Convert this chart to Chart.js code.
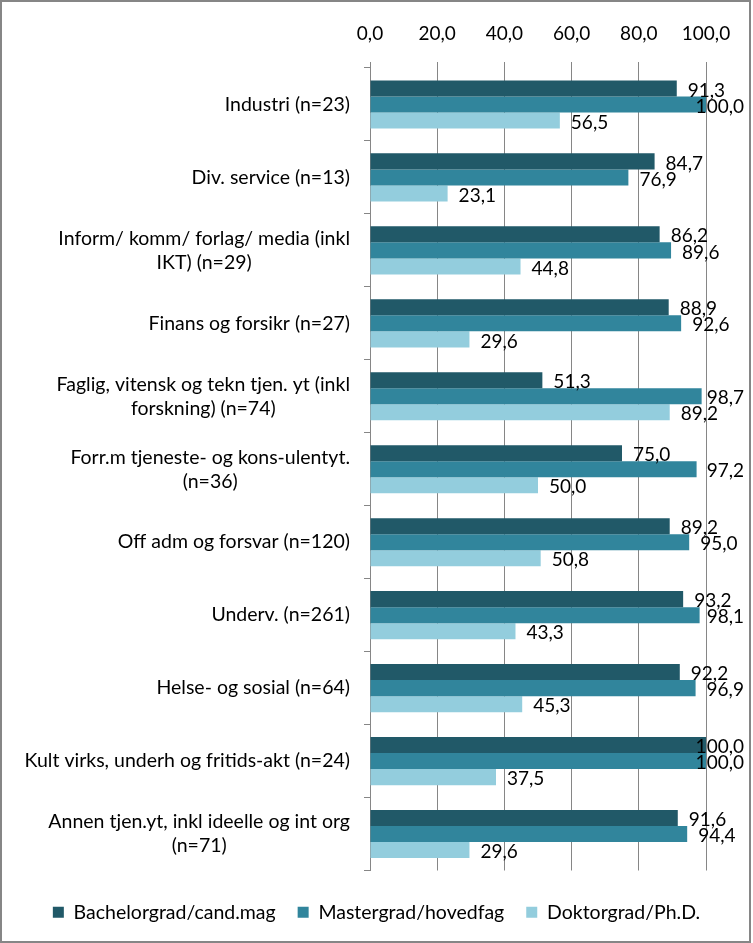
<!DOCTYPE html>
<html>
<head>
<meta charset="utf-8">
<script src="https://cdn.jsdelivr.net/npm/chart.js@4/dist/chart.umd.min.js"></script>
<style>
  html, body { margin: 0; padding: 0; background: #fff; }
  #wrap { width: 753px; height: 943px; }
</style>
</head>
<body>
<div id="wrap"><canvas id="utdChart"></canvas></div>
<script>
const categories = [
  'Industri (n=23)',
  'Div. service (n=13)',
  ['Inform/ komm/ forlag/ media (inkl', 'IKT) (n=29)'],
  'Finans og forsikr (n=27)',
  ['Faglig, vitensk og tekn tjen. yt (inkl', 'forskning) (n=74)'],
  ['Forr.m tjeneste- og kons-ulentyt.', '(n=36)'],
  'Off adm og forsvar (n=120)',
  'Underv. (n=261)',
  'Helse- og sosial (n=64)',
  'Kult virks, underh og fritids-akt (n=24)',
  ['Annen tjen.yt, inkl ideelle og int org', '(n=71)']
];
const bachelor = [91.3, 84.7, 86.2, 88.9, 51.3, 75.0, 89.2, 93.2, 92.2, 100.0, 91.6];
const master = [100.0, 76.9, 89.6, 92.6, 98.7, 97.2, 95.0, 98.1, 96.9, 100.0, 94.4];
const doktor = [56.5, 23.1, 44.8, 29.6, 89.2, 50.0, 50.8, 43.3, 45.3, 37.5, 29.6];
const seriesNames = ['Bachelorgrad/cand.mag', 'Mastergrad/hovedfag', 'Doktorgrad/Ph.D.'];
const xTicks = [0, 20, 40, 60, 80, 100];

const FONT = 'Lato, "Liberation Sans", sans-serif';
const fmt = v => v.toFixed(1).replace('.', ',');

// hvit bakgrunn + ramme
const frame = {
  id: 'frame',
  beforeDraw(chart) {
    const c = chart.ctx;
    c.save();
    c.fillStyle = '#fff';
    c.fillRect(0, 0, chart.width, chart.height);
    c.restore();
  },
  afterDraw(chart) {
    const c = chart.ctx;
    c.save();
    c.strokeStyle = '#868686';
    c.lineWidth = 2;
    c.strokeRect(1, 1, chart.width - 4, chart.height - 2);
    c.restore();
  }
};

// kategoritekst: høyrejustert blokk, linjer sentrert
const catLabels = {
  id: 'catLabels',
  afterDraw(chart) {
    const c = chart.ctx;
    const y = chart.scales.y;
    c.save();
    c.font = '19.5px ' + FONT;
    c.fillStyle = '#000';
    c.textAlign = 'center';
    c.textBaseline = 'middle';
    const right = y.right - 20;
    const lh = 24;
    categories.forEach((lab, i) => {
      const lines = Array.isArray(lab) ? lab : [lab];
      const w = Math.max(...lines.map(l => c.measureText(l).width));
      const cx = right - w / 2;
      const cy = y.getPixelForValue(i);
      lines.forEach((l, j) => {
        c.fillText(l, cx, cy + (j - (lines.length - 1) / 2) * lh);
      });
    });
    c.restore();
  }
};

// verdietiketter, skjøvet innover ved høyre kant
const valueLabels = {
  id: 'valueLabels',
  afterDraw(chart) {
    const c = chart.ctx;
    c.save();
    c.font = '19px ' + FONT;
    c.fillStyle = '#000';
    c.textAlign = 'left';
    c.textBaseline = 'middle';
    chart.data.datasets.forEach((ds, di) => {
      chart.getDatasetMeta(di).data.forEach((bar, i) => {
        const t = fmt(ds.data[i]);
        const w = c.measureText(t).width;
        const x = Math.min(bar.x + 11, 744 - w);
        c.fillText(t, x, bar.y + 2);
      });
    });
    c.restore();
  }
};

new Chart(document.getElementById('utdChart'), {
  type: 'bar',
  data: {
    labels: categories,
    datasets: [
      { label: seriesNames[0], data: bachelor, backgroundColor: '#215968' },
      { label: seriesNames[1], data: master, backgroundColor: '#31859C' },
      { label: seriesNames[2], data: doktor, backgroundColor: '#93CDDD' }
    ]
  },
  options: {
    indexAxis: 'y',
    responsive: true,
    maintainAspectRatio: false,
    animation: false,
    layout: { padding: { left: 0, right: 0, top: 18, bottom: 11 } },
    datasets: {
      bar: { categoryPercentage: 0.66, barPercentage: 1.0 }
    },
    scales: {
      x: {
        position: 'top',
        min: 0,
        max: 100,
        afterBuildTicks: s => { s.ticks = xTicks.map(v => ({ value: v })); },
        afterFit: s => { s.height = 50; },
        ticks: {
          color: '#000',
          font: { family: FONT, size: 19 },
          padding: 17,
          callback: v => fmt(v)
        },
        grid: { color: '#868686', tickLength: 6, lineWidth: 1 },
        border: { display: false }
      },
      y: {
        afterFit: s => { s.width = 370; },
        ticks: { color: 'rgba(0,0,0,0)', font: { family: FONT, size: 17 } },
        grid: { drawOnChartArea: false, color: '#868686', tickLength: 6, offset: true },
        border: { color: '#868686' }
      },
      // tom akse til høyre, bare for å holde plass til etikettene
      rpad: {
        type: 'linear',
        axis: 'y',
        position: 'right',
        ticks: { display: false },
        grid: { display: false },
        border: { display: false },
        afterFit: s => { s.width = 47; }
      }
    },
    plugins: {
      legend: {
        position: 'bottom',
        align: 'center',
        title: { display: true, text: '', font: { size: 8, lineHeight: 1.25 }, padding: 0 },
        labels: {
          color: '#000',
          font: { family: FONT, size: 19.5 },
          boxWidth: 11,
          boxHeight: 11,
          padding: 22
        }
      },
      tooltip: { enabled: false }
    }
  },
  plugins: [frame, catLabels, valueLabels]
});
</script>
</body>
</html>
